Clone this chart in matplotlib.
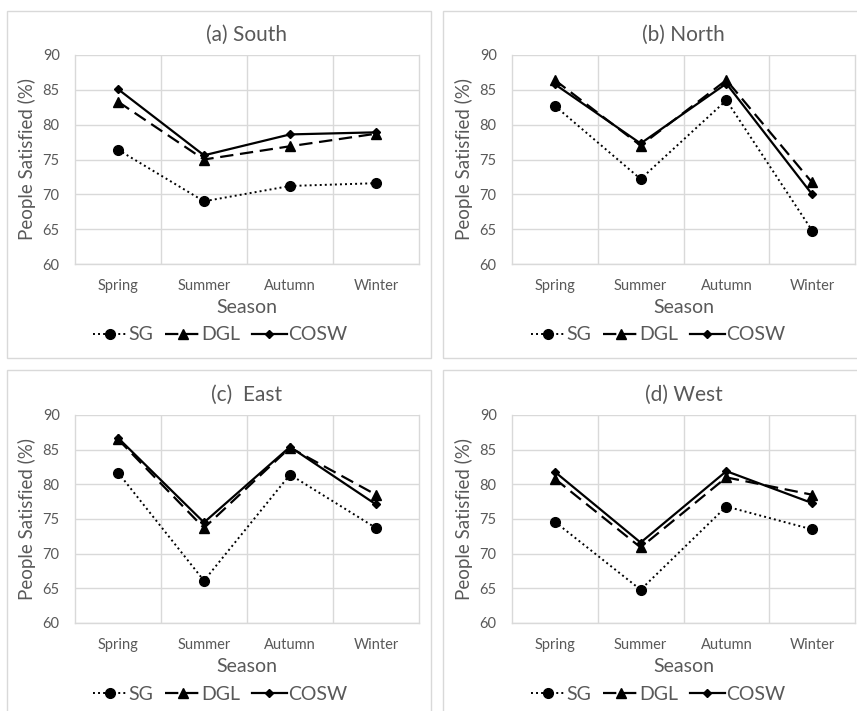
import matplotlib
matplotlib.use("Agg")
from matplotlib import pyplot as plt
from matplotlib.patches import Rectangle
from matplotlib.lines import Line2D

plt.rcParams['font.family'] = ['Lato', 'DejaVu Sans']

seasons = ["Spring", "Summer", "Autumn", "Winter"]
titles = ["(a) South", "(b) North", "(c)  East", "(d) West"]

sg_south = [76.4, 69.0, 71.2, 71.6]
dgl_south = [83.3, 75.0, 76.9, 78.7]
cosw_south = [85.1, 75.6, 78.6, 78.9]

sg_north = [82.7, 72.2, 83.5, 64.8]
dgl_north = [86.4, 77.0, 86.4, 71.7]
cosw_north = [85.8, 77.3, 85.9, 70.0]

sg_east = [81.7, 66.1, 81.4, 73.7]
dgl_east = [86.5, 73.7, 85.3, 78.5]
cosw_east = [86.7, 74.5, 85.4, 77.1]

sg_west = [74.6, 64.8, 76.8, 73.5]
dgl_west = [80.8, 70.9, 81.0, 78.5]
cosw_west = [81.8, 71.6, 81.9, 77.3]

panels = [
    (sg_south, dgl_south, cosw_south),
    (sg_north, dgl_north, cosw_north),
    (sg_east, dgl_east, cosw_east),
    (sg_west, dgl_west, cosw_west),
]

W, H = 857, 711
fig = plt.figure(figsize=(W / 100, H / 100), dpi=100)
fig.patch.set_facecolor("white")

def frac(l, t, r, b):
    return [l / W, 1 - b / H, (r - l) / W, (b - t) / H]

# chart boxes (pixel) and plot areas (pixel)
boxes = [(7, 11, 431, 358), (443, 11, 870, 358), (7, 370, 431, 730), (443, 370, 870, 730)]
plots = [(75, 55, 419, 264), (512, 55, 855, 264), (75, 415, 419, 623), (512, 415, 855, 623)]

grey = "#595959"
gridc = "#d9d9d9"

for i in range(4):
    l, t, r, b = boxes[i]
    fig.patches.append(Rectangle((l / W, 1 - b / H), (r - l) / W, (b - t) / H,
                                 transform=fig.transFigure, fill=False,
                                 edgecolor=gridc, linewidth=1.0))
    ax = fig.add_axes(frac(*plots[i]))
    sg, dgl, cosw = panels[i]
    x = list(range(len(seasons)))
    ax.plot(x, sg, color="black", linestyle=(0, (1, 1.6)), linewidth=1.4,
            marker="o", markersize=7, label="SG", zorder=3)
    ax.plot(x, dgl, color="black", linestyle=(0, (6, 3)), linewidth=1.6,
            marker="^", markersize=7, label="DGL", zorder=4)
    ax.plot(x, cosw, color="black", linestyle="-", linewidth=1.6,
            marker="D", markersize=4.5, label="COSW", zorder=5)

    ax.set_xlim(-0.5, 3.5)
    ax.set_ylim(60, 90)
    ax.set_yticks([60, 65, 70, 75, 80, 85, 90])
    ax.set_xticks(x)
    ax.set_xticklabels(seasons)
    ax.set_xticks([0.5, 1.5, 2.5], minor=True)
    ax.grid(True, axis="y", color=gridc, linewidth=1.0)
    ax.grid(True, axis="x", which="minor", color=gridc, linewidth=1.0)
    ax.grid(False, axis="x", which="major")
    ax.tick_params(axis="both", which="both", length=0, labelsize=10.5, labelcolor=grey)
    ax.tick_params(axis="x", pad=11)
    ax.tick_params(axis="y", pad=11)
    ax.spines["top"].set_visible(False)
    for s in ["left", "right", "bottom"]:
        ax.spines[s].set_color(gridc)
        ax.spines[s].set_linewidth(1.0)
    ax.set_ylabel("People Satisfied (%)", fontsize=13.5, color=grey, labelpad=5)
    ax.set_xlabel("Season", fontsize=14, color=grey, labelpad=4)
    ax.set_title(titles[i], fontsize=15, color=grey, pad=10)

    leg_y = 335 if i < 2 else 694
    handles = [
        Line2D([], [], color="black", linestyle=(0, (1, 1.6)), linewidth=1.4, marker="o", markersize=7),
        Line2D([], [], color="black", linestyle=(0, (6, 3)), linewidth=1.6, marker="^", markersize=7),
        Line2D([], [], color="black", linestyle="-", linewidth=1.6, marker="D", markersize=4.5),
    ]
    lgx = 220 if i in (0, 2) else 658
    fig.legend(handles, ["SG", "DGL", "COSW"], loc="center",
               bbox_to_anchor=(lgx / W, 1 - leg_y / H), ncol=3, frameon=False,
               fontsize=14, labelcolor=grey, handlelength=1.8, handletextpad=0.05,
               columnspacing=0.6, borderpad=0.2)

fig.savefig("out.png", dpi=100, facecolor="white")
